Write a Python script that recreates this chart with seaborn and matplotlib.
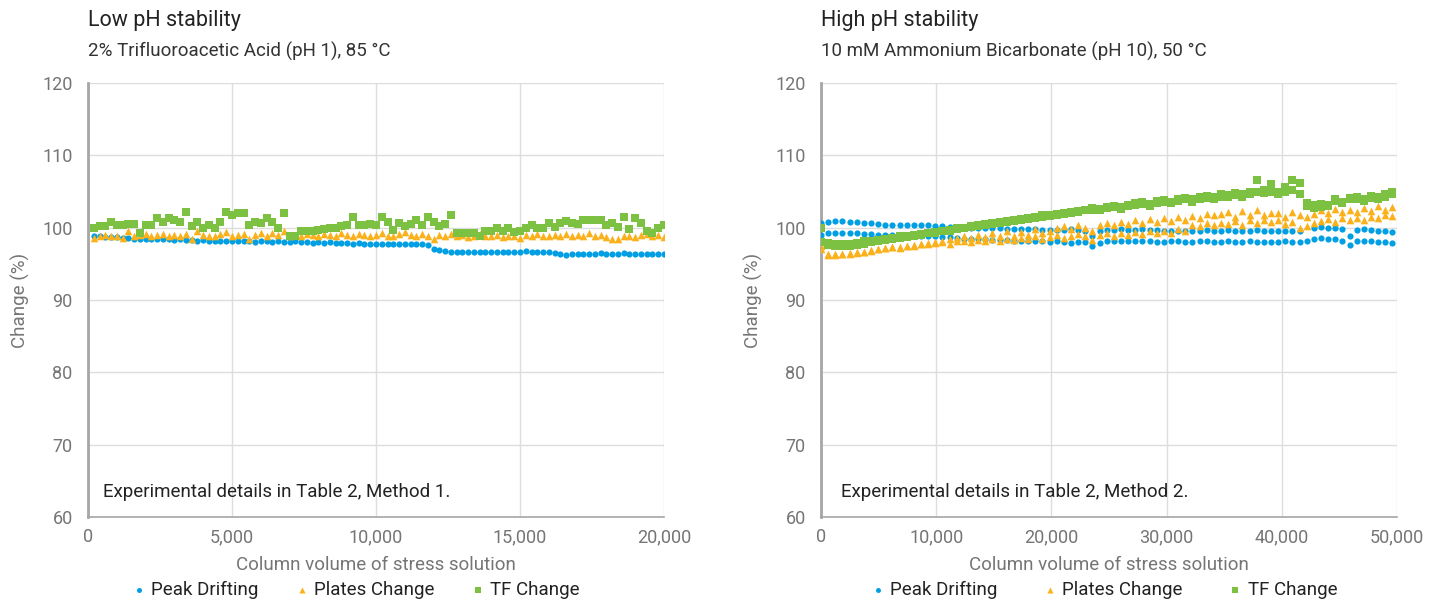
import numpy as np
import pandas as pd
import seaborn as sns
import matplotlib
matplotlib.use("Agg")
from matplotlib import pyplot as plt

# ---- data ----
series_names = ["Peak Drifting", "Plates Change", "TF Change"]
colors = {"Peak Drifting": "#009fe3", "Plates Change": "#fbb11b", "TF Change": "#7cc142"}
markers = {"Peak Drifting": "o", "Plates Change": "^", "TF Change": "s"}
sizes = {"Peak Drifting": 20, "Plates Change": 30, "TF Change": 26}

# low pH panel: sampling points every 200 column volumes
low_x = np.arange(200, 20001, 200)
low_peak = [98.8, 98.8, 98.7, 98.7, 98.7, 98.6, 98.6, 98.5, 98.5, 98.5,
            98.4, 98.4, 98.5, 98.4, 98.3, 98.4, 98.3, 98.3, 98.2, 98.3,
            98.2, 98.2, 98.1, 98.2, 98.1, 98.1, 98.2, 98.1, 98.0, 98.1,
            98.1, 98.0, 98.1, 98.0, 98.0, 98.1, 98.0, 98.0, 97.9, 98.0,
            97.9, 98.0, 97.9, 97.9, 97.9, 97.8, 97.9, 97.8, 97.8, 97.8,
            97.8, 97.8, 97.7, 97.8, 97.7, 97.7, 97.7, 97.7, 97.6, 97.1,
            96.9, 96.8, 96.7, 96.7, 96.7, 96.7, 96.7, 96.7, 96.7, 96.7,
            96.7, 96.7, 96.7, 96.7, 96.7, 96.8, 96.7, 96.7, 96.6, 96.6,
            96.5, 96.3, 96.2, 96.3, 96.4, 96.4, 96.4, 96.4, 96.5, 96.4,
            96.4, 96.4, 96.5, 96.4, 96.4, 96.4, 96.3, 96.3, 96.3, 96.3]
low_plates = [98.6, 98.9, 99.0, 98.9, 98.8, 98.6, 99.5, 98.9, 99.0, 99.1,
              98.9, 99.0, 99.1, 98.9, 99.0, 98.8, 99.1, 98.5, 99.5, 99.0,
              98.9, 98.8, 99.1, 99.4, 98.9, 99.0, 99.1, 98.4, 99.0, 99.2,
              98.9, 99.2, 99.0, 99.5, 98.9, 99.0, 98.8, 99.1, 99.0, 98.9,
              99.1, 99.0, 98.8, 99.2, 99.0, 98.9, 99.1, 99.0, 98.8, 99.0,
              99.2, 98.8, 98.9, 99.1, 99.4, 99.0, 98.9, 99.1, 98.8, 98.4,
              99.0, 98.9, 99.1, 98.8, 99.0, 98.7, 98.9, 99.1, 98.8, 98.9,
              99.0, 98.7, 98.8, 98.9, 98.6, 99.0, 98.9, 99.1, 98.8, 98.9,
              99.0, 98.8, 99.1, 98.9, 99.0, 98.8, 99.2, 98.9, 99.0, 98.7,
              98.5, 98.4, 98.8, 98.9, 98.7, 99.0, 99.1, 98.8, 99.0, 98.7]
low_tf = [100.0, 100.2, 100.2, 100.8, 100.3, 100.4, 100.5, 100.5, 99.3, 100.4,
          100.4, 101.3, 100.8, 101.3, 101.0, 100.8, 102.1, 100.2, 100.8, 99.9,
          100.4, 99.9, 100.8, 102.1, 101.7, 102.0, 102.0, 100.3, 100.8, 100.6,
          101.3, 100.8, 99.9, 102.0, 98.9, 98.9, 99.5, 99.5, 99.6, 99.7,
          99.8, 100.0, 99.9, 100.2, 100.3, 101.5, 100.4, 100.4, 100.5, 100.3,
          101.5, 100.8, 99.7, 100.6, 100.2, 100.5, 101.1, 100.4, 101.5, 100.8,
          100.2, 100.5, 101.8, 99.2, 99.2, 99.2, 99.2, 98.9, 99.5, 99.6,
          100.0, 99.6, 99.9, 99.4, 99.6, 100.0, 100.3, 99.9, 99.9, 100.7,
          100.1, 100.6, 100.9, 100.7, 100.5, 101.0, 101.1, 101.0, 101.0, 100.4,
          100.7, 100.1, 101.5, 99.8, 101.4, 100.7, 99.6, 99.2, 100.0, 100.3]

# high pH panel: two columns per test, sampled every 620 column volumes
high_x = np.arange(0, 49601, 620)
high_peak_1 = [100.6, 100.8, 100.9, 100.9, 100.8, 100.8, 100.7, 100.6,
               100.5, 100.4, 100.4, 100.4, 100.4, 100.3, 100.3, 100.3,
               100.2, 100.2, 100.1, 100.1, 100.1, 100.0, 100.0, 99.9,
               99.9, 99.9, 99.8, 99.8, 99.8, 99.8, 99.8, 99.7,
               99.7, 99.7, 99.7, 99.8, 99.7, 99.6, 98.8, 99.6,
               99.7, 99.7, 99.8, 99.7, 99.7, 99.8, 99.7, 99.7,
               99.6, 99.6, 99.5, 99.6, 99.6, 99.6, 99.7, 99.6,
               99.6, 99.7, 99.6, 99.6, 99.6, 99.7, 99.6, 99.6,
               99.6, 99.6, 99.6, 99.5, np.nan, 100.0, 100.1, 100.0,
               99.9, 99.8, 98.9, 99.7, 99.8, 99.7, 99.6, 99.5, 99.4]
high_peak_2 = [99.0, 99.2, 99.3, 99.3, 99.2, 99.2, 99.1, 99.1,
               99.0, 99.0, 99.0, 98.9, 99.0, 98.9, 98.9, 98.8,
               98.8, 98.7, 98.7, 98.6, 98.5, 98.5, 98.4, 98.4,
               98.3, 98.3, 98.3, 98.2, 98.2, 98.1, 98.1, 98.1,
               98.0, 98.1, 98.0, 97.9, 98.0, 98.0, 97.4, 97.9,
               98.1, 98.1, 98.2, 98.1, 98.2, 98.1, 98.1, 98.0,
               98.0, 98.1, 98.1, 98.0, 98.0, 98.1, 98.1, 98.0,
               98.0, 98.1, 98.0, 98.0, 98.1, 98.0, 98.0, 98.0,
               98.0, 98.1, 98.0, 98.0, 98.2, 98.5, 98.6, 98.5,
               98.4, 98.2, 97.6, 98.1, 98.2, 98.1, 98.0, 98.0, 97.9]
high_plates_1 = [97.4, 96.4, 96.3, 96.4, 96.5, 96.6, 96.7, 96.9,
                 97.0, 97.2, 97.3, 97.3, 97.4, 97.5, 97.7, 97.9,
                 98.0, 98.2, 98.4, 98.6, 98.8, 98.6, 99.0, 98.7,
                 99.2, 98.8, 99.5, 98.9, 99.4, 99.0, 99.8, 99.3,
                 99.6, 99.9, 100.2, 99.8, 100.4, 100.0, 99.6, 100.4,
                 100.6, 100.3, 100.8, 100.5, 101.0, 100.6, 101.2, 100.8,
                 101.3, 100.9, 101.5, 101.1, 101.6, 101.3, 101.9, 101.7,
                 101.9, 102.1, 101.5, 102.3, 101.7, 102.4, 101.8, 102.0,
                 102.0, 101.5, 102.2, 101.8, 101.5, 101.9, 102.4, 102.0,
                 102.6, 102.1, 102.5, 102.2, 102.7, 102.3, 103.0, 102.4, 102.9]
high_plates_2 = [97.0, 96.2, 96.2, 96.3, 96.4, 96.5, 96.6, 96.8,
                 97.1, 97.2, 97.3, 97.2, 97.4, 97.6, 97.8, 97.7,
                 97.9, 98.0, 97.8, 98.1, 98.2, 98.0, 98.3, 98.1,
                 98.4, 98.2, 98.5, 98.3, 98.6, 98.4, 98.8, 98.5,
                 98.7, 99.0, 98.6, 98.9, 99.1, 98.8, 98.3, 99.0,
                 99.2, 98.9, 99.3, 99.0, 99.4, 99.1, 99.5, 99.2,
                 99.6, 99.3, 99.8, 99.5, 100.4, 100.2, 100.6, 100.3,
                 100.7, 100.5, 100.9, 100.4, 101.0, 100.6, 101.1, 100.8,
                 101.0, 100.5, 100.8, 99.9, 100.2, 100.6, 100.9, 101.2,
                 100.8, 101.3, 101.0, 101.4, 101.1, 101.5, 101.3, 101.7, 101.6]
high_tf_1 = [100.0, 97.9, 97.8, 97.7, 97.8, 97.9, 98.1, 98.2,
             98.3, 98.5, 98.6, 98.8, 98.9, 99.0, 99.1, 99.3,
             99.4, 99.6, 99.7, 99.9, 100.0, 100.2, 100.3, 100.5,
             100.6, 100.8, 100.9, 101.1, 101.2, 101.4, 101.5, 101.7,
             101.8, 101.9, 102.0, 102.1, 102.3, 102.5, 102.7, 102.6,
             102.9, 103.0, 102.8, 103.2, 103.4, 103.5, 103.3, 103.7,
             103.8, 103.6, 104.0, 104.1, 103.9, 104.3, 104.4, 104.2,
             104.6, 104.5, 104.8, 104.6, 105.0, 106.6, 105.2, 106.1,
             105.0, 105.6, 106.6, 106.2, 103.4, 103.1, 103.3, 103.2,
             104.0, 103.6, 104.1, 104.2, 103.9, 104.4, 104.3, 104.6, 105.0]
high_tf_2 = [98.0, 97.6, 97.5, 97.4, 97.5, 97.6, 97.8, 98.0,
             98.1, 98.3, 98.4, 98.6, 98.7, 98.9, 99.0, 99.2,
             99.3, 99.5, 99.6, 99.8, 99.9, 100.1, 100.2, 100.4,
             100.5, 100.6, 100.8, 100.9, 101.1, 101.2, 101.4, 101.5,
             101.6, 101.8, 101.9, 102.0, 102.1, 102.4, 102.5, 102.4,
             102.7, 102.8, 102.6, 103.0, 103.1, 103.3, 103.0, 103.4,
             103.5, 103.4, 103.7, 103.9, 103.6, 104.0, 104.1, 104.0,
             104.3, 104.2, 104.5, 104.3, 104.7, 104.9, 104.8, 105.0,
             104.6, 104.9, 105.2, 104.7, 103.0, 102.7, 102.9, 103.0,
             103.7, 103.4, 103.9, 104.0, 103.7, 104.1, 104.0, 104.3, 104.7]


def long_frame(x, parts):
    rows = []
    for name, vals in parts:
        rows.append(pd.DataFrame({"x": x, "value": vals, "series": name}))
    return pd.concat(rows, ignore_index=True).dropna()


df_low = long_frame(low_x, [("Peak Drifting", low_peak),
                            ("Plates Change", low_plates),
                            ("TF Change", low_tf)])
df_high = long_frame(high_x, [("Peak Drifting", high_peak_1),
                              ("Peak Drifting", high_peak_2),
                              ("Plates Change", high_plates_1),
                              ("Plates Change", high_plates_2),
                              ("TF Change", high_tf_1),
                              ("TF Change", high_tf_2)])

sns.set_style("white")
plt.rcParams["font.family"] = ["Roboto", "DejaVu Sans"]

fig = plt.figure(figsize=(14.43, 6.04), dpi=100)
ax1 = fig.add_axes([88 / 1443, 87 / 604, 576 / 1443, 434 / 604])
ax2 = fig.add_axes([821 / 1443, 87 / 604, 576 / 1443, 434 / 604])

panels = [
    (ax1, df_low, 20000, [0, 5000, 10000, 15000, 20000],
     "Low pH stability", "2% Trifluoroacetic Acid (pH 1), 85 °C",
     "Experimental details in Table 2, Method 1.", 0.026, 0.466, 2.0),
    (ax2, df_high, 50000, [0, 10000, 20000, 30000, 40000, 50000],
     "High pH stability", "10 mM Ammonium Bicarbonate (pH 10), 50 °C",
     "Experimental details in Table 2, Method 2.", 0.035, 0.493, 2.5),
]

for ax, df, xmax, xticks, title, subtitle, note, note_x, leg_x, colsp in panels:
    for name in series_names:
        sub = df[df["series"] == name]
        sns.scatterplot(data=sub, x="x", y="value", ax=ax, color=colors[name],
                        marker=markers[name], s=sizes[name], linewidth=0,
                        label=name, zorder=3)
    ax.set_xlim(0, xmax)
    ax.set_ylim(60, 120)
    ax.set_xticks(xticks)
    ax.set_xticklabels([f"{t:,}" for t in xticks])
    ax.set_yticks(range(60, 121, 10))
    ax.grid(True, color="#dddddd", linewidth=1)
    ax.set_axisbelow(True)
    for side in ["top", "right"]:
        ax.spines[side].set_visible(False)
    ax.spines["left"].set_color("#a6a6a6")
    ax.spines["left"].set_linewidth(2)
    ax.spines["bottom"].set_color("#a6a6a6")
    ax.spines["bottom"].set_linewidth(1.2)
    ax.tick_params(axis="both", length=0, labelsize=13, labelcolor="#757575")
    ax.tick_params(axis="x", pad=8)
    ax.tick_params(axis="y", pad=11)
    ax.set_xlabel("Column volume of stress solution", fontsize=13.5, color="#757575", labelpad=7)
    ax.set_ylabel("Change (%)", fontsize=13.5, color="#757575", labelpad=9)
    ax.text(0, 1.144, title, transform=ax.transAxes, fontsize=15.5, color="#222222",
            ha="left", va="center")
    ax.text(0, 1.073, subtitle, transform=ax.transAxes, fontsize=13.5, color="#333333",
            ha="left", va="center")
    ax.text(note_x, 0.058, note, transform=ax.transAxes,
            fontsize=13.5, color="#222222", ha="left", va="center")
    handles, labels = ax.get_legend_handles_labels()
    ax.legend(handles, labels, loc="center", bbox_to_anchor=(leg_x, -0.168),
              ncol=3, frameon=False, fontsize=13.5, markerscale=0.8,
              handlelength=0.6, handletextpad=0.35, columnspacing=colsp,
              labelcolor="#222222")

fig.savefig("out.png", dpi=100)
